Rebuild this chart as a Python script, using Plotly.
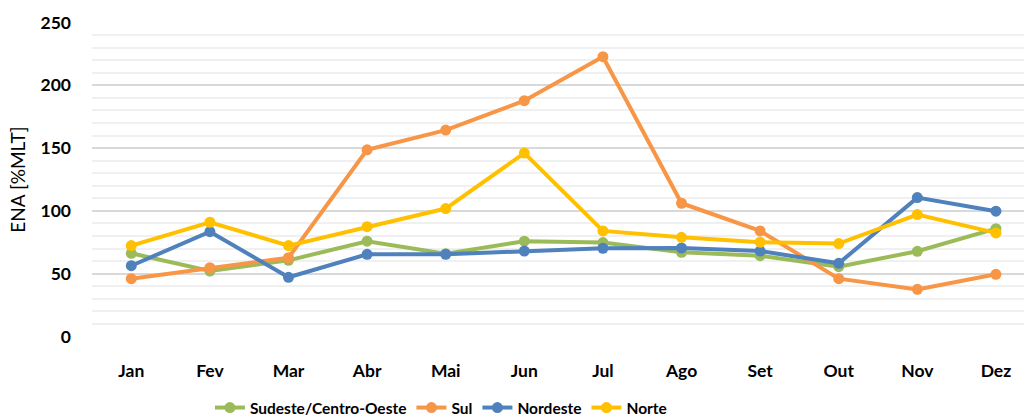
import plotly.graph_objects as go

meses = ["Jan", "Fev", "Mar", "Abr", "Mai", "Jun", "Jul", "Ago", "Set", "Out", "Nov", "Dez"]

sudeste_co = [66.3, 52.2, 60.7, 75.9, 66.0, 75.9, 74.8, 67.1, 64.4, 55.6, 67.9, 85.9]
sul = [46.1, 54.8, 62.8, 148.6, 164.3, 187.7, 222.7, 106.1, 84.1, 46.1, 37.6, 49.6]
nordeste = [56.4, 83.5, 47.2, 65.5, 65.5, 68.1, 70.3, 70.5, 68.1, 58.3, 110.6, 99.8]
norte = [72.4, 91.0, 72.4, 87.5, 101.9, 146.0, 84.1, 79.0, 75.1, 74.0, 97.1, 82.5]

series = [
    ("Sudeste/Centro-Oeste", sudeste_co, "#9BBB59"),
    ("Sul", sul, "#F79646"),
    ("Nordeste", nordeste, "#4F81BD"),
    ("Norte", norte, "#FFC000"),
]

fig = go.Figure()
for nome, valores, cor in series:
    fig.add_trace(go.Scatter(
        x=meses, y=valores, name=nome, mode="lines+markers",
        line=dict(color=cor, width=4),
        marker=dict(color=cor, size=11),
    ))

fig.update_layout(
    width=1024, height=418,
    margin=dict(l=92, r=0, t=22, b=81, autoexpand=False),
    paper_bgcolor="white", plot_bgcolor="white",
    font=dict(family="Lato", color="#000000"),
    showlegend=True,
    legend=dict(
        orientation="h", xref="container", x=0.205, xanchor="left",
        yref="container", y=0.024, yanchor="middle",
        font=dict(family="Lato", size=15.5, weight="bold"),
        itemwidth=30, tracegroupgap=0,
    ),
)

fig.update_xaxes(
    range=[-0.5, 11.357],
    showgrid=False, showline=False, zeroline=False,
    ticks="", ticklabelstandoff=21,
    tickfont=dict(family="Lato", size=17.5, weight="bold"),
)

fig.update_yaxes(
    range=[-0.3, 250.3], tickvals=[0, 50, 100, 150, 200, 250],
    showgrid=True, gridcolor="#D9D9D9", gridwidth=2,
    minor=dict(tickvals=[v for v in range(10, 250, 10) if v % 50], showgrid=True,
               gridcolor="#F0F0F0", gridwidth=2),
    zeroline=False, showline=False, ticks="", ticklabelstandoff=20,
    tickfont=dict(family="Lato", size=17.5, weight="bold"),
    title=dict(text="ENA [%MLT]", font=dict(family="Lato", size=19), standoff=9),
)

fig.write_html("out.html")
